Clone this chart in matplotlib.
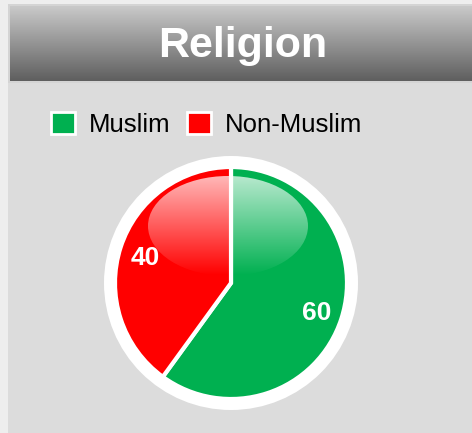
import numpy as np
import matplotlib.pyplot as plt
from matplotlib.patches import Rectangle, Circle, Ellipse

plt.rcParams['font.family'] = ['Liberation Sans', 'DejaVu Sans']

# data
labels = ['Muslim', 'Non-Muslim']
values = [60, 40]
colors = ['#00b050', '#ff0000']
title = 'Religion'

W, H = 472, 433
fig = plt.figure(figsize=(W / 100, H / 100), dpi=100)
fig.patch.set_facecolor('#eeeeee')

# background panel + header (pixel coords)
bg = fig.add_axes([0, 0, 1, 1])
bg.set_xlim(0, W)
bg.set_ylim(H, 0)
bg.axis('off')
bg.add_patch(Rectangle((8, 4), W - 8, H - 4, facecolor='#d4d4d4', edgecolor='none'))
bg.add_patch(Rectangle((8, 83), W - 8, H - 83, facecolor='#dcdcdc', edgecolor='none'))
grad = np.linspace(0, 1, 100).reshape(-1, 1)
bg.imshow(grad, cmap=plt.matplotlib.colors.LinearSegmentedColormap.from_list(
    'hdr', ['#c9c9c9', '#5f5f5f']), extent=(10, W, 81, 6), aspect='auto', zorder=2)
bg.set_xlim(0, W)
bg.set_ylim(H, 0)
bg.text(243, 46, title, color='white', fontsize=31, fontweight='bold',
        ha='center', va='center', zorder=3)

# pie
cx, cy, half = 231, 283, 130
ax = fig.add_axes([(cx - half) / W, (H - cy - half) / H, 2 * half / W, 2 * half / H])
ax.set_xlim(-1.3, 1.3)
ax.set_ylim(-1.3, 1.3)
ax.set_aspect('equal')
ax.axis('off')
ax.add_patch(Circle((0, 0), 1.27, facecolor='white', edgecolor='none', zorder=0))

wedges, texts, autotexts = ax.pie(
    values, colors=colors, startangle=90, counterclock=False, radius=1.16,
    autopct=lambda p: '%.0f' % (p * sum(values) / 100), pctdistance=0.78,
    wedgeprops=dict(edgecolor='white', linewidth=3),
    textprops=dict(color='white', fontsize=19, fontweight='bold'))
ax.set_xlim(-1.3, 1.3)
ax.set_ylim(-1.3, 1.3)

# glossy highlight
hl = np.ones((100, 2, 4))
hl[:, :, 3] = np.linspace(0.72, 0.0, 100).reshape(-1, 1)
img = ax.imshow(hl, extent=(-0.83, 0.77, 0.07, 1.07), aspect='auto', zorder=3)
clip = Ellipse((-0.03, 0.57), 1.6, 1.0, transform=ax.transData)
img.set_clip_path(clip)
for t in autotexts:
    t.set_zorder(4)
    t.set_va('center_baseline')

leg = fig.legend(wedges, labels, loc='upper left', bbox_to_anchor=(51 / W, 1 - 112 / H),
                 ncol=2, frameon=False, fontsize=18.5, handlelength=0.92, handleheight=0.92,
                 handletextpad=0.55, columnspacing=0.65, borderpad=0, borderaxespad=0)
for h in leg.legend_handles:
    h.set_linewidth(2)

fig.savefig('out.png', dpi=100)
